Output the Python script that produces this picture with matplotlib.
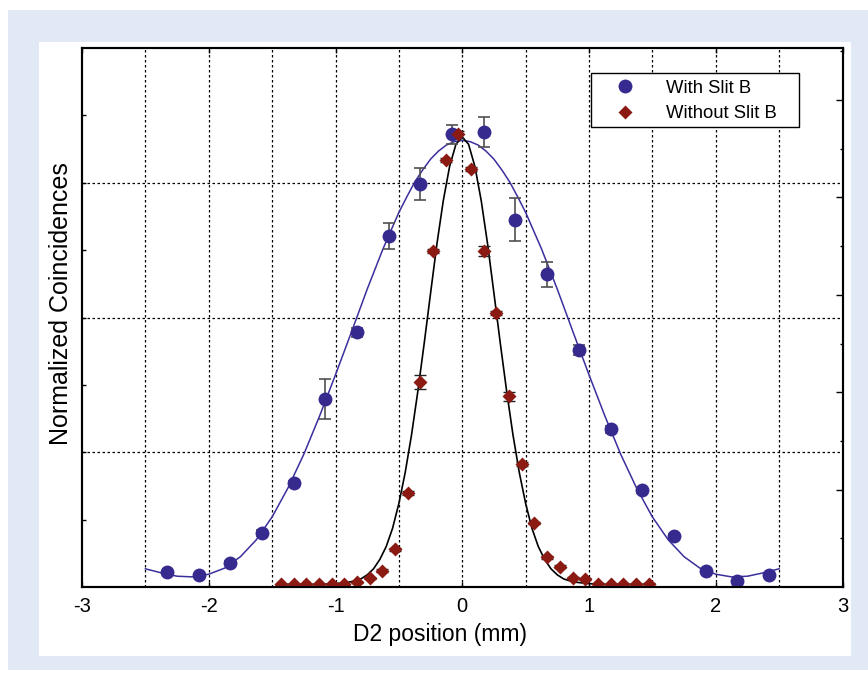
import matplotlib
matplotlib.use("Agg")
import matplotlib.pyplot as plt
from matplotlib.patches import Rectangle
from matplotlib.lines import Line2D

plt.rcParams['font.family'] = ['Liberation Sans', 'DejaVu Sans']
plt.rcParams['axes.unicode_minus'] = False

# with slit B (circles)
with_x = [-2.33, -2.08, -1.83, -1.58, -1.33, -1.08, -0.83, -0.58, -0.33, -0.08,
          0.17, 0.42, 0.67, 0.92, 1.17, 1.42, 1.67, 1.92, 2.17, 2.42]
with_y = [0.22, 0.18, 0.36, 0.80, 1.54, 2.79, 3.78, 5.21, 5.98, 6.72,
          6.75, 5.45, 4.64, 3.52, 2.34, 1.44, 0.76, 0.24, 0.09, 0.18]
with_err = [0.02, 0.02, 0.03, 0.05, 0.03, 0.30, 0.07, 0.20, 0.24, 0.14,
            0.22, 0.32, 0.19, 0.07, 0.05, 0.05, 0.03, 0.02, 0.02, 0.02]

# without slit B (diamonds)
without_x = [-1.43, -1.33, -1.23, -1.13, -1.03, -0.93, -0.83, -0.73, -0.63, -0.53,
             -0.43, -0.33, -0.23, -0.13, -0.03, 0.07, 0.17, 0.27, 0.37, 0.47,
             0.57, 0.67, 0.77, 0.87, 0.97, 1.07, 1.17, 1.27, 1.37, 1.47]
without_y = [0.04, 0.04, 0.04, 0.04, 0.04, 0.04, 0.07, 0.13, 0.24, 0.56,
             1.40, 3.04, 4.99, 6.34, 6.72, 6.20, 4.99, 4.07, 2.83, 1.82,
             0.95, 0.44, 0.30, 0.14, 0.12, 0.05, 0.04, 0.04, 0.04, 0.05]
without_err = [0.01, 0.01, 0.01, 0.01, 0.01, 0.01, 0.01, 0.01, 0.02, 0.02,
               0.03, 0.10, 0.03, 0.03, 0.05, 0.03, 0.07, 0.03, 0.07, 0.03,
               0.02, 0.02, 0.02, 0.01, 0.01, 0.01, 0.01, 0.01, 0.01, 0.01]

# fit curves
fit_with_x = [-2.5, -2.375, -2.25, -2.125, -2.0, -1.875, -1.75, -1.625, -1.5, -1.375,
              -1.25, -1.125, -1.0, -0.875, -0.75, -0.625, -0.5, -0.4375, -0.375,
              -0.3125, -0.25, -0.1875, -0.125, -0.0625,
              0.0, 0.0625, 0.125, 0.1875, 0.25, 0.3125, 0.375, 0.4375,
              0.5, 0.625, 0.75, 0.875, 1.0, 1.125,
              1.25, 1.375, 1.5, 1.625, 1.75, 1.875, 2.0, 2.125, 2.25, 2.375, 2.5]
fit_with_y = [0.27, 0.21, 0.16, 0.15, 0.19, 0.28, 0.45, 0.70, 1.04, 1.47,
              1.97, 2.54, 3.15, 3.78, 4.42, 5.02, 5.56, 5.79, 6.01,
              6.19, 6.35, 6.47, 6.56, 6.61,
              6.63, 6.61, 6.56, 6.47, 6.35, 6.19, 6.01, 5.79,
              5.56, 5.02, 4.42, 3.78, 3.15, 2.54,
              1.97, 1.47, 1.04, 0.70, 0.45, 0.28, 0.19, 0.15, 0.16, 0.21, 0.27]

fit_without_x = [-1.45, -1.25, -1.1, -1.0, -0.9, -0.85, -0.8, -0.75, -0.7, -0.65,
                 -0.6, -0.55, -0.5, -0.45, -0.4, -0.35, -0.3, -0.25, -0.2, -0.15,
                 -0.1, -0.05, 0.0, 0.05, 0.1, 0.15, 0.2, 0.25, 0.3, 0.35,
                 0.4, 0.45, 0.5, 0.55, 0.6, 0.65, 0.7, 0.75, 0.8, 0.85,
                 0.9, 1.0, 1.1, 1.25, 1.45]
fit_without_y = [0.04, 0.04, 0.04, 0.05, 0.07, 0.09, 0.12, 0.18, 0.27, 0.41,
                 0.60, 0.87, 1.24, 1.70, 2.26, 2.91, 3.62, 4.36, 5.09, 5.73,
                 6.24, 6.57, 6.68, 6.57, 6.24, 5.73, 5.09, 4.36, 3.62, 2.91,
                 2.26, 1.70, 1.24, 0.87, 0.60, 0.41, 0.27, 0.18, 0.12, 0.09,
                 0.07, 0.05, 0.04, 0.04, 0.04]

blue = '#372a8f'
red = '#8b1a12'

W, H = 868, 678
fig = plt.figure(figsize=(W / 100, H / 100), dpi=100)
fig.patches.append(Rectangle((8 / W, 1 - 670 / H), 860 / W, 660 / H,
                             transform=fig.transFigure, facecolor='#e1e8f6',
                             edgecolor='none', zorder=-10))
fig.patches.append(Rectangle((39 / W, 1 - 656 / H), 812 / W, 614 / H,
                             transform=fig.transFigure, facecolor='white',
                             edgecolor='none', zorder=-9))

ax = fig.add_axes([82 / W, 1 - 587 / H, 760.5 / W, 539 / H])
ax.set_xlim(-3, 3)
ax.set_ylim(0, 8)

# grid
for gx in [-2.5, -2, -1.5, -1, -0.5, 0, 0.5, 1, 1.5, 2, 2.5]:
    ax.axvline(gx, color='black', lw=0.9, ls=(0, (2, 2)), zorder=1)
for gy in [2, 4, 6]:
    ax.axhline(gy, color='black', lw=0.9, ls=(0, (2, 2)), zorder=1)

ax.plot(fit_with_x, fit_with_y, color='#3a2f9c', lw=1.1, zorder=2)
ax.plot(fit_without_x, fit_without_y, color='black', lw=1.2, zorder=2)

ax.errorbar(with_x, with_y, yerr=with_err, fmt='none', ecolor='#505050',
            elinewidth=1.2, capsize=4.5, capthick=1.2, zorder=3)
ax.errorbar(without_x, without_y, yerr=without_err, fmt='none', ecolor='#222222',
            elinewidth=1.0, capsize=4.0, capthick=1.0, zorder=3)
ax.plot(with_x, with_y, 'o', color=blue, ms=10, mec='none', zorder=4)
ax.plot(without_x, without_y, 'D', color=red, ms=7.5, mec='none', zorder=4)

ax.set_xticks([-3, -2, -1, 0, 1, 2, 3])
ax.set_xticklabels(['-3', '-2', '-1', '0', '1', '2', '3'])
ax.set_yticks([1, 2, 3, 4, 5, 6, 7])
ax.set_yticklabels([])
ax.tick_params(axis='x', direction='in', top=True, length=3.5, width=1,
               labelsize=14.5, pad=7)
ax.tick_params(axis='y', direction='in', length=3, width=1)
for s in ax.spines.values():
    s.set_linewidth(1.5)

ax2 = ax.twinx()
ax2.set_ylim(0, 539 / 48.7)
ax2.set_yticks([2, 4, 6, 8, 10])
ax2.set_yticks([1, 3, 5, 7, 9, 11], minor=True)
ax2.set_yticklabels([])
ax2.tick_params(axis='y', which='major', direction='in', length=5, width=1)
ax2.tick_params(axis='y', which='minor', direction='in', length=2.5, width=1)
for s in ax2.spines.values():
    s.set_linewidth(1.5)

fig.text(440 / W, 1 - 635 / H, 'D2 position (mm)', ha='center', va='center',
         fontsize=16.5)
fig.text(61 / W, 1 - 304 / H, 'Normalized Coincidences', ha='center', va='center',
         rotation=90, fontsize=18)

# legend box
ax2.add_patch(Rectangle((590.7 / W, 1 - 126.7 / H), 208.6 / W, 53.4 / H,
                        transform=fig.transFigure, facecolor='white',
                        edgecolor='black', lw=1.0, zorder=4))
handles = [Line2D([], [], marker='o', ls='none', color=blue, ms=10, mec='none'),
           Line2D([], [], marker='D', ls='none', color=red, ms=7.5, mec='none')]
ax2.legend(handles, ['With Slit B', 'Without Slit B'], loc='upper left',
           bbox_to_anchor=(612 / W, 1 - 76 / H), bbox_transform=fig.transFigure,
           frameon=False, fontsize=13.3, borderpad=0.2, borderaxespad=0,
           handlelength=1.0, handletextpad=1.75, labelspacing=0.45)

fig.savefig('out.png', dpi=100)
